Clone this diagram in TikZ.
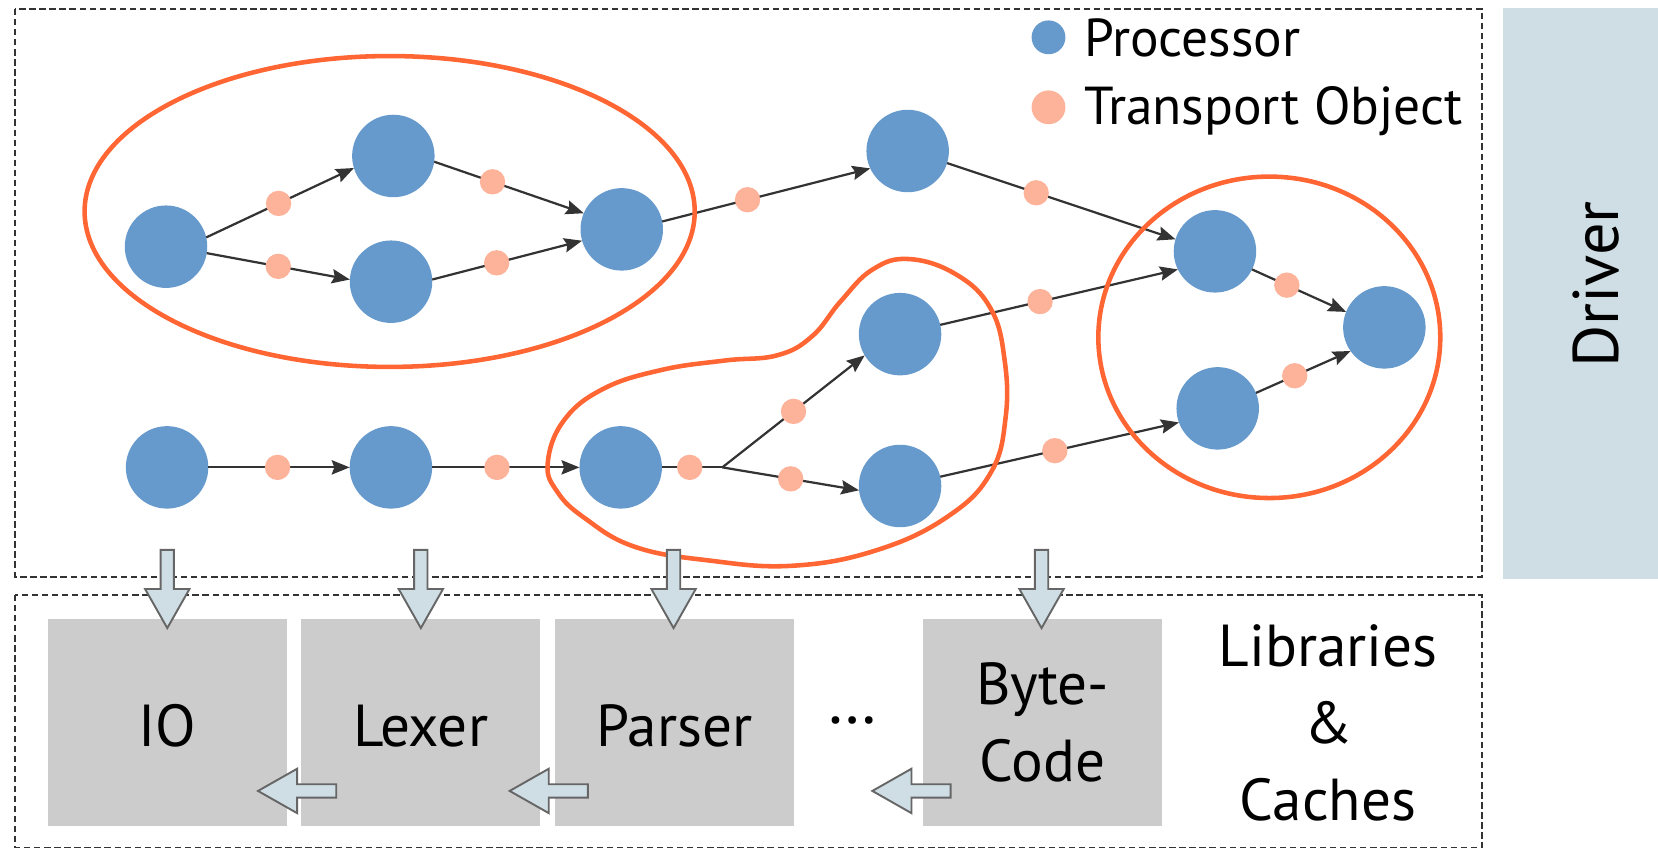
\documentclass[tikz,border=0pt]{standalone}
\usepackage{fontspec}
\setmainfont{PT Sans}
\usetikzlibrary{arrows.meta}
\definecolor{procblue}{HTML}{6699CC}
\definecolor{tdotc}{HTML}{FDB29A}
\definecolor{orangec}{HTML}{FF6633}
\definecolor{grayc}{HTML}{CCCCCC}
\definecolor{drvc}{HTML}{CFDDE4}
\definecolor{arrstroke}{HTML}{666666}
\definecolor{linec}{HTML}{333333}
\definecolor{dashc}{HTML}{333333}
\newcommand{\legfont}{\fontsize{50.5}{58}\selectfont}
\newcommand{\boxfont}{\fontsize{56}{72.8}\selectfont}
\newcommand{\drvfont}{\fontsize{61}{70}\selectfont}
\tikzset{
  proc/.style={circle, fill=procblue, draw=none, minimum size=78pt, inner sep=0pt, outer sep=0pt},
  tdot/.style={circle, fill=tdotc, draw=none, minimum size=24pt, inner sep=0pt, outer sep=0pt},
  conn/.style={draw=linec, line width=2.1pt, -{Stealth[length=17pt,width=13.5pt,inset=2.5pt]}},
  plainconn/.style={draw=linec, line width=2.1pt},
  grp/.style={draw=orangec, line width=4.3pt},
  dashbox/.style={draw=dashc, line width=1.8pt, dash pattern=on 6pt off 3.5pt},
  libbox/.style={rectangle, fill=grayc, draw=none, minimum width=226pt, minimum height=195.5pt, inner sep=0pt, font=\boxfont, align=center},
  barrow/.style={fill=drvc, draw=arrstroke, line width=1.8pt, line join=miter},
  blockarr/.pic={\path[barrow] (0,-6.3) -- (37,-6.3) -- (37,-21) -- (74,0) -- (37,21) -- (37,6.3) -- (0,6.3) -- cycle;}
}
\begin{document}
\begin{tikzpicture}[x=1pt,y=-1pt]
\useasboundingbox (0,0) rectangle (1568,803);
% driver
\node[rectangle, fill=drvc, draw=none, minimum width=147pt, minimum height=539.6pt, inner sep=0pt] (drv) at (1494.5,277.8) {};
\node[rotate=90, font=\drvfont, inner sep=0pt] (drvt) at (1509,269) {Driver};
% dashed frames
\draw[dashbox] (14.6,8.5) rectangle (1401.5,545.4);
\draw[dashbox] (14.6,562.7) rectangle (1401.5,801.5);
% library boxes
\node[libbox, text height=45pt, text depth=0pt] (io) at (158.2,683.3) {IO};
\node[libbox, text height=45pt, text depth=0pt] (lex) at (397.8,683.3) {Lexer};
\node[libbox, text height=45pt, text depth=0pt] (par) at (638,683.3) {Parser};
\node[libbox] (bc) at (986,683.3) {Byte-\\Code};
\node[anchor=base, font=\fontsize{62}{70}\selectfont, inner sep=0pt] (ell) at (806,684) {…};
\node[font=\boxfont, align=center, inner sep=0pt] (lib) at (1256,683.5) {Libraries\\\&\\Caches};
% processors
\node[proc] (a1) at (157,233.3) {};
\node[proc] (a2) at (372,147.5) {};
\node[proc] (a3) at (369.8,266.4) {};
\node[proc] (a4) at (588,216.9) {};
\node[proc] (b1) at (858.4,142.8) {};
\node[proc] (c1) at (1149,237.7) {};
\node[proc] (c2) at (1151.6,386.2) {};
\node[proc] (c3) at (1309.2,309.6) {};
\node[proc] (d1) at (158,442) {};
\node[proc] (d2) at (369.7,442) {};
\node[proc] (d3) at (587,442) {};
\node[proc] (e1) at (851.2,316) {};
\node[proc] (e2) at (851.2,459.6) {};
\coordinate (sp) at (683.1,442);
% connectors with transport objects
\draw[conn] (a1.13) -- node[tdot,pos=0.49] (t1) {} (a2.197);
\draw[conn] (a1.351) -- node[tdot,pos=0.5] (t2) {} (a3.177);
\draw[conn] (a2.352) -- node[tdot,pos=0.39] (t3) {} (a4.157);
\draw[conn] (a3.3) -- node[tdot,pos=0.43] (t4) {} (a4.196);
\draw[conn] (a4.11) -- node[tdot,pos=0.41] (t5) {} (b1.205);
\draw[conn] (b1.343) -- node[tdot,pos=0.39] (t6) {} (c1.163);
\draw[conn] (e1.13) -- node[tdot,pos=0.42] (t7) {} (c1.206);
\draw[conn] (c1.334) -- node[tdot,pos=0.37] (t8) {} (c3.158);
\draw[conn] (c2.22) -- node[tdot,pos=0.41] (t9) {} (c3.215);
\draw[conn] (e2.13) -- node[tdot,pos=0.48] (t10) {} (c2.200);
\draw[conn] (d1) -- node[tdot,pos=0.49] (t11) {} (d2);
\draw[conn] (d2) -- node[tdot,pos=0.44] (t12) {} (d3);
\draw[plainconn] (d3) -- node[tdot,pos=0.46] (t13) {} (sp);
\draw[conn] (sp) -- node[tdot,pos=0.5] (t14) {} (e1.211);
\draw[conn] (sp) -- node[tdot,pos=0.5] (t15) {} (e2.186);
% groups
\draw[grp] (368.5,200) ellipse [x radius=288.5, y radius=147];
\draw[grp] (1200.4,319) ellipse [x radius=161.7, y radius=152];
\draw[grp] plot[smooth cycle, tension=0.7] coordinates {(518,438) (533,398) (570,368) (625,350) (685,341) (735,336) (768,318) (795,285) (825,255) (860,245) (905,260) (937,292) (950,340) (951,395) (937,447) (897,488) (830,520) (750,535) (670,530) (600,517) (553,490) (527,465)};
% legend
\node[circle, fill=procblue, minimum size=32pt, inner sep=0pt] (lgp) at (991.6,35.3) {};
\node[circle, fill=tdotc, minimum size=32pt, inner sep=0pt] (lgt) at (991.6,101.5) {};
\node[anchor=base west, font=\legfont, inner sep=0pt] (lgpt) at (1025,53.6) {Processor};
\node[anchor=base west, font=\legfont, inner sep=0pt] (lgtt) at (1025,117.3) {Transport Object};
% block arrows
\pic[rotate=-90] at (158.2,520) {blockarr};
\pic[rotate=-90] at (398,520) {blockarr};
\pic[rotate=-90] at (637,520) {blockarr};
\pic[rotate=-90] at (985,520) {blockarr};
\pic[rotate=180] at (318,748) {blockarr};
\pic[rotate=180] at (556,748) {blockarr};
\pic[rotate=180] at (899,748) {blockarr};
\end{tikzpicture}
\end{document}
